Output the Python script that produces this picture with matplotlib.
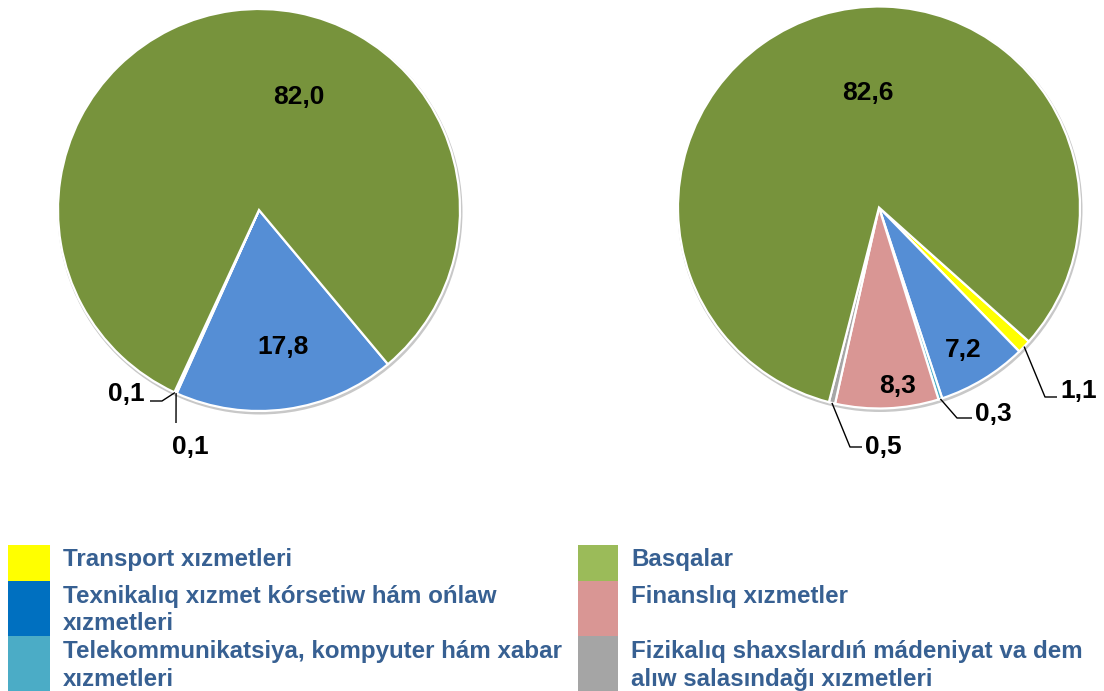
import numpy as np
import matplotlib
matplotlib.use("Agg")
import matplotlib.pyplot as plt
from matplotlib.patches import Rectangle, Circle

# ---------------- data ----------------
legend_labels = [
    "Transport xızmetleri",
    "Texnikalıq xızmet kórsetiw hám ońlaw\nxızmetleri",
    "Telekommunikatsiya, kompyuter hám xabar\nxızmetleri",
    "Basqalar",
    "Finanslıq xızmetler",
    "Fizikalıq shaxslardıń mádeniyat va dem\nalıw salasındağı xızmetleri",
]
legend_colors = ["#FFFF00", "#0070C0", "#4BACC6", "#9BBB59", "#D99694", "#A5A5A5"]

# pie order (clockwise)
pie_categories = ["Transport", "Texnikalıq", "Telekommunikatsiya", "Finanslıq", "Fizikalıq", "Basqalar"]
pie_colors = ["#FFFF00", "#558ED5", "#4BACC6", "#D99694", "#A6A6A6", "#77933C"]
left_values = [0.0, 17.8, 0.1, 0.0, 0.1, 82.0]
right_values = [1.1, 7.2, 0.3, 8.3, 0.5, 82.6]

# ---------------- layout ----------------
W, H = 1104, 691
def Y(y):
    return H - y

fig = plt.figure(figsize=(W / 100, H / 100), dpi=100)
ax = fig.add_axes([0, 0, 1, 1])
ax.set_axis_off()

FONT = "Liberation Sans"
TXT = "#376092"

pies = [
    dict(values=left_values, center=(259, 210), r=201, start=-50.1,
         labels={5: (299, 97), 1: (283, 347),
                 4: (126, 394), 2: (190, 447)},
         leaders={4: [(162, 401), (150, 401)], 2: [(176, 423), (176, 423)]}),
    dict(values=right_values, center=(879, 207.5), r=201, start=-41.8,
         labels={5: (868, 93), 1: (963, 350), 3: (898, 386),
                 0: (1079, 391), 2: (993, 414), 4: (883, 447)},
         leaders={0: [(1045, 397), (1057, 397)], 2: [(957, 418), (972, 418)],
                  4: [(850, 447), (862, 447)]}),
]

for p in pies:
    cx, cy = p["center"]
    # subtle shadow
    ax.add_patch(Circle((cx + 1, Y(cy) - 2), p["r"] + 1.5, color="#c8c8c8", zorder=0, lw=0))
    wedges, _ = ax.pie(p["values"], colors=pie_colors, startangle=p["start"],
                       counterclock=False, center=(cx, Y(cy)), radius=p["r"],
                       wedgeprops=dict(edgecolor="white", linewidth=1.6),
                       frame=True)
    for i, w in enumerate(wedges):
        if i not in p["labels"]:
            continue
        lx, ly = p["labels"][i]
        txt = f"{p['values'][i]:.1f}".replace(".", ",")
        ax.text(lx, Y(ly), txt, ha="center", va="center", fontsize=19,
                fontweight="bold", family=FONT, color="black", zorder=5)
        if i in p["leaders"]:
            mid = np.deg2rad((w.theta1 + w.theta2) / 2)
            ax0 = cx + p["r"] * np.cos(mid)
            ay0 = Y(cy) + p["r"] * np.sin(mid)
            (ex, ey), (fx, fy) = p["leaders"][i]
            ax.plot([ax0, ex, fx], [ay0, Y(ey), Y(fy)], color="black", lw=1.0,
                    zorder=4, solid_capstyle="butt")

# ---------------- legend ----------------
box_x = [(8, 50), (578, 618)]
text_x = [63, 631]
box_rows = [(545, 581), (581, 636), (636, 691)]
baselines = [[566], [603, 630], [658, 686]]
for k, (lab, col) in enumerate(zip(legend_labels, legend_colors)):
    c, r = divmod(k, 3)
    y0, y1 = box_rows[r]
    x0, x1 = box_x[c]
    ax.add_patch(Rectangle((x0, Y(y1)), x1 - x0, y1 - y0, color=col, lw=0, zorder=2))
    for line, b in zip(lab.split("\n"), baselines[r]):
        ax.text(text_x[c], Y(b), line, ha="left", va="baseline", fontsize=17.4,
                fontweight="bold", family=FONT, color=TXT)

ax.set_xlim(0, W)
ax.set_ylim(0, H)
ax.set_aspect("auto")
fig.savefig("out.png", dpi=100)
